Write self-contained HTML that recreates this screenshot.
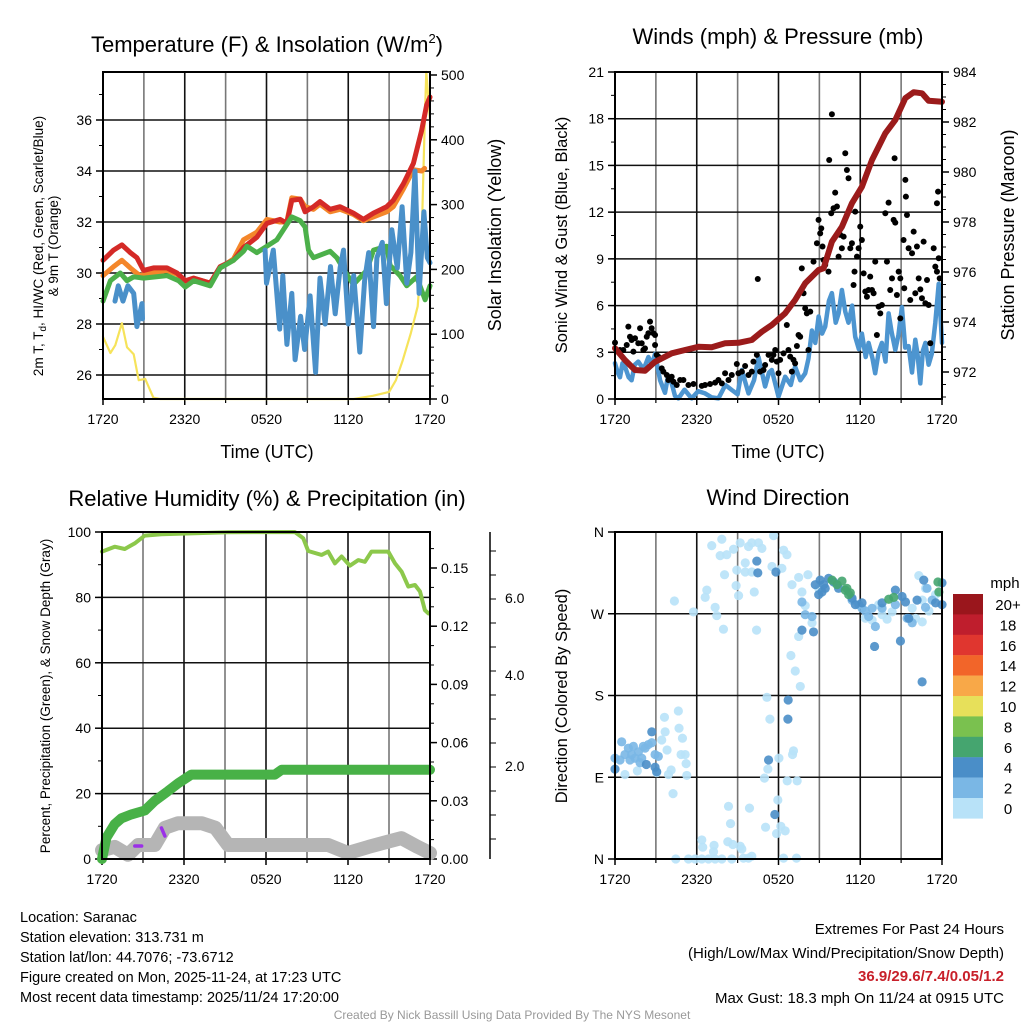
<!DOCTYPE html>
<html><head><meta charset="utf-8"><title>Saranac Mesonet</title>
<style>
html,body{margin:0;padding:0;background:#fff;}
svg{display:block;font-family:"Liberation Sans",sans-serif;}
.tk{font-size:14px;fill:#000;}
.tt{font-size:22px;fill:#000;}
.al{font-size:18px;fill:#000;}
</style></head>
<body>
<svg id="c" width="1024" height="1024" viewBox="0 0 1024 1024" xmlns="http://www.w3.org/2000/svg">
<rect width="1024" height="1024" fill="#fff"/>
<text class="tt" x="267" y="52" text-anchor="middle">Temperature (F) &amp; Insolation (W/m<tspan font-size="13" dy="-9">2</tspan><tspan dy="9">)</tspan></text>
<text class="tt" x="778" y="44" text-anchor="middle">Winds (mph) &amp; Pressure (mb)</text>
<text class="tt" x="267" y="506" text-anchor="middle">Relative Humidity (%) &amp; Precipitation (in)</text>
<text class="tt" x="778" y="505" text-anchor="middle">Wind Direction</text>
<text class="al" x="267" y="458" text-anchor="middle">Time (UTC)</text>
<text class="al" x="778" y="458" text-anchor="middle">Time (UTC)</text>
<text x="0" y="0" font-size="13.5" text-anchor="middle" transform="translate(43,246) rotate(-90)">2m T, T<tspan font-size="10" dy="3">d</tspan><tspan dy="-3">, HI/WC (Red, Green, Scarlet/Blue)</tspan></text>
<text x="0" y="0" font-size="13.5" text-anchor="middle" transform="translate(58,246) rotate(-90)">&amp; 9m T (Orange)</text>
<text class="al" x="0" y="0" text-anchor="middle" transform="translate(501,235) rotate(-90)">Solar Insolation (Yellow)</text>
<text x="0" y="0" font-size="16.5" text-anchor="middle" transform="translate(567,235) rotate(-90)">Sonic Wind &amp; Gust (Blue, Black)</text>
<text class="al" x="0" y="0" text-anchor="middle" transform="translate(1014,235) rotate(-90)">Station Pressure (Maroon)</text>
<text x="0" y="0" font-size="13.5" text-anchor="middle" transform="translate(50,696) rotate(-90)">Percent, Precipitation (Green), &amp; Snow Depth (Gray)</text>
<text x="0" y="0" font-size="16.5" text-anchor="middle" transform="translate(567,696) rotate(-90)">Direction (Colored By Speed)</text>
<text x="1005" y="588" font-size="15" text-anchor="middle">mph</text>
<g font-size="14.5">
<text x="20" y="922">Location: Saranac</text>
<text x="20" y="942">Station elevation: 313.731 m</text>
<text x="20" y="962">Station lat/lon: 44.7076; -73.6712</text>
<text x="20" y="982">Figure created on Mon, 2025-11-24, at 17:23 UTC</text>
<text x="20" y="1002">Most recent data timestamp: 2025/11/24 17:20:00</text>
</g>
<g font-size="15" text-anchor="end">
<text x="1004" y="934">Extremes For Past 24 Hours</text>
<text x="1004" y="958">(High/Low/Max Wind/Precipitation/Snow Depth)</text>
<text x="1004" y="981" fill="#c8202a" font-weight="bold">36.9/29.6/7.4/0.05/1.2</text>
<text x="1004" y="1003">Max Gust: 18.3 mph On 11/24 at 0915 UTC</text>
</g>
<text x="512" y="1019" font-size="12" fill="#999" text-anchor="middle">Created By Nick Bassill Using Data Provided By The NYS Mesonet</text>
</svg>
<script>
// ---------------- data ----------------
const xTickLabels = ["1720","2320","0520","1120","1720"];
const tempTicks = [26,28,30,32,34,36];
const solarTicks = [0,100,200,300,400,500];
const windTicks = [0,3,6,9,12,15,18,21];
const presTicks = [972,974,976,978,980,982,984];
const rhTicks = [0,20,40,60,80,100];
const precipTicks = ["0.00","0.03","0.06","0.09","0.12","0.15"];
const snowTickLabels = ["2.0","4.0","6.0"];
const dirTickLabels = ["N","E","S","W","N"];
const speedLabels = ["20+","18","16","14","12","10","8","6","4","2","0"];
const speedColors = ["#9a161c","#bf1e2d","#e0362f","#f26529","#f8a848","#e7e05a","#7ac14f","#45a56f","#4a8ec8","#7ab7e5","#b8e2f8"];

const redT = [0,0.78,1.39,2.0,2.49,2.98,3.71,4.69,5.43,6.04,6.65,7.87,8.6,9.58,10.31,11.29,12.03,13.0,13.49,13.86,14.47,14.83,15.45,15.93,16.67,17.4,18.38,19.11,19.85,20.82,21.31,22.05,22.78,23.39,23.76,24];
const redV = [30.5,30.9,31.1,30.8,30.6,30.1,30.2,30.2,30.0,29.7,29.8,29.6,30.25,30.5,31.0,31.4,31.95,32.1,31.95,32.85,32.9,32.4,32.6,32.8,32.5,32.6,32.35,32.1,32.35,32.6,32.85,33.5,34.3,35.6,36.6,36.9];
const orangeT = [0,0.78,1.39,2.0,2.7,3.5,4.69,5.43,6.04,6.65,7.87,8.6,9.58,10.31,11.29,12.03,13.0,13.49,13.86,14.47,14.83,15.45,15.93,16.67,17.4,18.38,19.11,19.85,20.82,21.31,22.05,22.78,23.39,23.6];
const orangeV = [29.9,30.25,30.5,30.2,29.9,30.0,30.1,29.95,29.65,29.8,29.6,30.2,30.55,31.3,31.6,32.1,32.0,32.0,32.95,32.9,32.6,32.5,32.7,32.4,32.5,32.3,32.05,32.2,32.4,32.6,33.3,34.05,34.0,34.1];
const greenT = [0,0.54,1.27,1.76,2.25,2.98,4.69,5.55,6.04,6.65,7.87,8.6,9.58,10.31,10.56,11.29,12.03,12.76,13.86,14.47,14.83,15.08,15.45,16.67,17.16,17.89,18.38,19.36,19.85,20.82,21.07,21.8,22.29,23.02,23.64,24];
const greenV = [28.9,29.7,30.0,29.7,29.85,29.8,29.9,29.7,29.45,29.7,29.5,30.2,30.5,30.85,31.05,30.8,31.05,31.3,32.2,32.05,31.8,30.9,30.6,30.85,30.6,29.95,29.55,30.1,30.9,31.05,30.3,29.9,29.5,29.85,28.95,29.5];
const blueT1 = [0.88,1.12,1.47,1.83,2.25,2.49,2.74,2.86,2.9];
const blueV1 = [28.9,29.5,28.9,29.5,29.2,27.9,28.5,28.8,28.2];
const blueT2 = [11.9,12.0,12.5,12.97,13.2,13.5,13.86,14.1,14.5,14.8,15.2,15.6,15.93,16.3,16.7,17.04,17.4,17.65,18.0,18.4,18.85,19.2,19.5,19.85,20.1,20.5,20.8,21.2,21.6,21.95,22.3,22.6,22.9,23.2,23.55,23.8,24];
const blueV2 = [30.9,29.6,30.9,27.8,29.9,27.2,29.2,26.6,28.3,27.0,29.1,26.1,29.8,28.0,30.25,28.4,30.2,30.9,28.0,29.9,26.9,29.7,30.8,27.9,30.6,31.2,28.8,31.7,30.2,32.6,29.6,30.8,34.0,29.2,32.4,30.6,30.4];
const solarT = [0,0.54,0.9,1.39,1.76,2.25,2.62,3.1,3.7,4.2,18.4,19.8,21.0,21.5,22.0,22.6,23.1,23.35,23.6,23.73,23.85,24];
const solarV = [96,71,83,117,80,69,29,31,2,0,0,5,11,29,60,102,143,215,420,505,470,430];

const gustT = [0,0.37,0.61,0.86,0.98,1.10,1.22,1.35,1.47,1.71,1.84,1.96,2.08,2.2,2.33,2.45,2.57,2.69,2.82,2.94,2.94,3.06,3.18,3.43,3.55,3.8,3.92,4.16,4.29,4.53,4.78,5.02,5.39,5.76,6.37,6.61,6.98,7.35,7.59,7.84,8.08,8.33,8.57,8.94,9.06,9.31,9.55,9.8,10.04,10.16,10.41,10.48,10.65,10.9,11.02,11.27,11.51,11.63,11.76,11.88,12.0,12.12,12.37,12.61,12.73,12.86,12.98,13.1,13.22,13.35,13.47,13.59,13.71,13.84,13.96,14.08,14.2,14.33,14.57,14.82,14.94,15.06,15.14,15.23,15.31,15.43,15.67,15.72,15.87,15.92,16.04,16.16,16.29,16.41,16.53,16.65,16.78,16.9,17.02,17.14,17.27,17.39,17.51,17.58,17.63,17.76,17.88,18.0,18.12,18.25,18.37,18.49,18.61,18.73,18.86,18.98,19.1,19.22,19.35,19.47,19.59,19.84,19.96,20.08,20.2,20.33,20.45,20.52,20.57,20.69,20.82,20.94,20.94,21.18,21.23,21.31,21.35,21.43,21.55,21.67,21.8,21.92,22.04,22.16,22.29,22.41,22.53,22.65,22.78,22.9,23.02,23.14,23.39,23.51,23.63,23.71,23.76,23.83,23.63];
const gustV = [3.62,3.15,3.15,3.47,4.65,4.0,3.79,3.04,3.9,3.58,4.54,3.58,3.15,3.25,4.0,4.22,4.97,4.54,4.22,4.11,3.47,2.83,2.72,1.97,1.76,1.54,1.22,1.43,1.11,0.9,1.22,1.22,0.9,0.96,0.84,0.9,0.96,1.05,1.22,1.0,1.65,1.22,1.54,2.25,1.65,1.76,2.12,1.54,1.76,2.4,2.83,7.71,1.76,1.86,2.18,2.83,2.51,2.83,3.15,2.4,1.65,2.51,2.93,4.75,3.15,2.72,1.76,2.51,2.29,3.4,4.11,4.0,8.39,6.79,5.82,5.5,3.15,5.61,8.82,10.0,11.5,10.64,10.96,9.79,8.93,8.61,8.18,15.35,11.93,18.29,12.25,13.25,12.36,9.14,10.54,9.68,10.43,15.78,14.71,14.18,9.68,10.0,7.32,8.18,12.03,9.14,9.68,11.07,10.21,8.07,6.9,6.57,7.0,7.86,7.0,6.79,8.82,4.11,5.93,5.5,6.04,11.93,8.82,12.61,7.0,7.75,11.5,15.46,11.33,6.68,8.18,7.75,5.18,10.21,7.11,14.07,13.0,11.82,9.68,6.36,9.36,10.75,6.79,9.79,7.75,7.04,6.47,10.11,6.15,7.64,6.04,3.58,9.68,8.5,8.18,13.32,9.04,7.75,12.57];
const windT = [0,0.2,0.37,0.55,0.73,1.0,1.22,1.45,1.71,2.1,2.45,2.7,2.94,3.31,3.67,3.9,4.16,4.4,4.65,5.1,5.63,6.1,6.61,7.1,7.59,8.1,8.57,9.0,9.31,9.8,10.2,10.53,11.02,11.3,11.51,12.0,12.49,12.9,13.22,13.6,13.96,14.2,14.45,14.7,14.94,15.2,15.43,15.7,15.92,16.2,16.41,16.65,16.9,17.14,17.4,17.63,17.9,18.12,18.4,18.61,18.9,19.1,19.35,19.59,19.85,20.08,20.3,20.57,20.8,21.06,21.3,21.55,21.8,22.04,22.2,22.41,22.6,22.78,23.02,23.25,23.51,23.76,24];
const windV = [2.3,1.7,1.4,2.3,2.1,1.4,1.2,2.2,2.4,1.9,2.7,2.2,2.9,1.2,0.4,1.5,1.0,0.2,0.04,0.6,0.04,0.5,0.36,0.1,0.04,0.9,0.58,0.3,1.86,0.36,1.2,2.7,0.8,1.7,1.86,0.15,1.43,0.9,2.08,1.2,1.65,2.6,4.4,3.6,5.3,4.2,4.65,6.3,6.8,4.9,5.5,7.0,5.6,4.9,6.0,4.0,3.2,4.2,2.7,3.6,2.6,1.65,3.0,3.6,2.4,5.5,4.3,3.15,4.1,5.9,3.3,3.4,1.7,3.8,2.9,1.0,3.1,3.6,2.2,2.9,4.9,7.4,3.6];
const presT = [0,0.73,1.47,2.2,2.94,4.16,5.14,6.12,7.1,8.08,9.06,10.04,10.78,11.51,12.49,13.22,13.96,14.94,15.31,15.92,16.65,17.39,18.12,18.86,19.84,20.57,21.31,21.92,22.53,23.02,24];
const presV = [972.95,972.48,972.08,972.05,972.41,972.75,972.88,973.01,972.99,973.15,973.17,973.28,973.61,973.88,974.35,974.88,975.55,976.08,976.15,977.21,977.81,978.75,979.41,980.48,981.55,982.08,982.95,983.19,983.15,982.85,982.81];

const rhT = [0,0.93,1.66,2.39,3.13,4.35,6.79,9.23,14.11,14.72,15.09,16.07,16.55,17.04,17.53,18.14,18.75,19.24,19.72,20.95,21.44,21.92,22.41,22.9,23.27,23.63,23.88];
const rhV = [94.0,95.5,94.8,96.5,98.9,99.3,99.6,99.9,100,98.1,94.2,93.0,94.0,90.4,92.5,89.7,91.4,90.9,94.0,94.0,90.4,87.9,83.3,83.8,81.8,76.1,75.1];
const precipT = [0,0.32,0.93,1.42,2.15,3.13,3.86,4.83,5.57,6.54,12.65,13.14,24];
const precipV = [0.0,0.011,0.018,0.021,0.023,0.025,0.030,0.035,0.039,0.0435,0.0435,0.046,0.046];
const snowT = [0,0.93,1.9,2.64,3.86,4.6,5.57,7.3,8.3,9.23,16.55,18.0,19.5,21.9,23.1,24];
const snowV = [0.19,0.26,0.09,0.3,0.3,0.67,0.77,0.77,0.67,0.3,0.3,0.13,0.26,0.45,0.26,0.13];

// wind direction, split by speed class
const dirT0 = [7.1,7.84,7.72,8.2,8.7,9.19,9.8,10.04,10.53,10.78,11.64,12.37,12.62,9.56,8.94,9.56,10.04,11.52,12.25,8.04,6.74,6.62,4.36,5.76,7.35,7.47,7.96,8.89,9.07,10.22,10.39,12.99,13.48,14.16,13.72,13.96,14.46,13.48,12.91,13.23,13.6,11.15,11.37,4.65,3.63,3.68,4.7,4.95,4.85,5.15,5.22,3.82,3.92,4.12,5.27,4.26,8.33,9.87,8.48,11.05,11.95,12.17,12.49,11.86,13.1,13.03,12.03,11.22,10.97,12.64,13.37,6.37,6.44,7.27,7.23,8.28,8.65,9.19,9.31,4.46,5.39,5.88,6.37,6.86,7.35,7.84,8.57,9.43,9.8,10.04,12.37,13.32,0.73,1.64,3.06,3.43,14.95,19.36,19.6,20.34,18.38,18.87,19.97,22.3,22.79,21.81,22.55,23.04,23.53,22.06,22.55];
const dirV0 = [345,352,334,335,341,348,344,348,348,342,356,340,335,326,318,316,316,322,320,313,296,288,284,272,277,268,253,301,290,294,252,302,310,313,294,279,260,245,224,207,190,178,154,163,156,140,144,133,115,115,105,120,93,98,92,72,58,56,39,35,65,36,31,28,119,115,111,99,89,86,86,21,13,15,8,19,16,14,11,0,0,0,0,0,0,0,0,1,1,3,1,1,93,97,95,131,298,280,269,272,265,263,264,312,298,276,285,273,291,265,261];
const dirT1 = [0,0.37,0.73,0.98,1.22,1.35,1.72,1.96,2.21,2.45,2.7,2.94,3.18,1.47,1.1,0.49,1.84,2.08,13.72,13.96,14.46,19.11,19.6,18.13,18.62,18.87,21.44,21.81,20.58,22.9,23.28,17.4,17.89,22.79,18.38];
const dirV1 = [111,109,115,122,115,124,118,111,122,126,128,115,113,111,109,129,106,124,283,269,267,256,276,276,267,276,265,260,280,298,285,285,280,277,273];
const dirT2 = [0,2.7,2.3,2.94,3.06,10.41,10.48,11.81,12.71,12.69,11.27,11.73,13.72,14.57,14.7,15.06,15.19,14.95,15.43,15.68,16.41,17.4,17.64,18.13,19.05,19.6,20.58,21.07,21.32,20.95,21.56,22.17,22.66,23.53,24,24,22.54,15.31,16.05];
const dirV2 = [99,140,104,101,96,328,315,316,175,154,109,49,252,250,302,307,294,291,298,309,298,287,280,282,234,282,296,289,283,240,265,285,307,282,280,304,195,302,305];
const dirT3 = [15.93,16.3,16.66,16.9,17.15,17.02,17.27,20.09,20.46,23.7,23.77];
const dirV3 = [307,302,306,296,291,298,293,286,288,305,294];

// ---------------- drawing ----------------
const NS = "http://www.w3.org/2000/svg";
const svg = document.getElementById("c");
function mk(tag, attrs, parent) {
  const e = document.createElementNS(NS, tag);
  for (const k in attrs) e.setAttribute(k, attrs[k]);
  (parent || svg).appendChild(e);
  return e;
}
function lin(d0, d1, p0, p1) { return v => p0 + (v - d0) / (d1 - d0) * (p1 - p0); }
function pathD(ts, vs, fx, fy) {
  let d = "";
  for (let i = 0; i < ts.length; i++) d += (i ? "L" : "M") + fx(ts[i]).toFixed(1) + "," + fy(vs[i]).toFixed(1);
  return d;
}
function panel(name, x0, x1, y0, y1) {
  const g = mk("g", {});
  
  
  const fx = lin(0, 24, x0, x1);
  for (let h = 3; h < 24; h += 3) {
    const l = mk("line", {x1: fx(h), x2: fx(h), y1: y0, y2: y1, stroke: h % 6 ? "#777" : "#111", "stroke-width": 1.6}, g);
    
    
  }
  for (let i = 0; i < xTickLabels.length; i++) {
    const x = fx(i * 6);
    const t = mk("line", {x1: x, x2: x, y1: y1, y2: y1 + 6, stroke: "#000", "stroke-width": 1.5}, g);
    
    
    const tx = mk("text", {x: x, y: y1 + 25, "text-anchor": "middle", class: "tk"}, g);
    tx.textContent = xTickLabels[i];
    
    
  }
  for (let h = 3; h < 24; h += 6) {
    const t = mk("line", {x1: fx(h), x2: fx(h), y1: y1, y2: y1 + 4, stroke: "#000", "stroke-width": 1.2}, g);
    
    
  }
  return {g, fx};
}
function frame(g, x0, x1, y0, y1) {
  const r = mk("rect", {x: x0, y: y0, width: x1 - x0, height: y1 - y0, fill: "none", stroke: "#000", "stroke-width": 2}, g);
  
  
}
function yAxis(g, ticks, labels, fy, x, side, y0, y1, grid, x0, x1, minorStep, dmin, dmax) {
  const dir = side === "left" ? -1 : 1;
  for (let i = 0; i < ticks.length; i++) {
    const y = fy(ticks[i]);
    if (y < y0 - 1 || y > y1 + 1) continue;
    if (grid) {
      const gl = mk("line", {x1: x0, x2: x1, y1: y, y2: y, stroke: "#111", "stroke-width": 1.5}, g);
      
      
    }
    const t = mk("line", {x1: x, x2: x + dir * 7, y1: y, y2: y, stroke: "#000", "stroke-width": 1.5}, g);
    
    
    const tx = mk("text", {x: x + dir * 11, y: y + 5, "text-anchor": side === "left" ? "end" : "start", class: "tk"}, g);
    tx.textContent = labels[i];
    
    
  }
  if (minorStep) {
    for (let v = dmin; v <= dmax + 1e-9; v += minorStep) {
      const y = fy(v);
      if (y < y0 || y > y1) continue;
      const t = mk("line", {x1: x, x2: x + dir * 4, y1: y, y2: y, stroke: "#000", "stroke-width": 1}, g);
      
      
    }
  }
}
function line(g, ts, vs, fx, fy, color, w, name) {
  const p = mk("path", {d: pathD(ts, vs, fx, fy), fill: "none", stroke: color, "stroke-width": w, "stroke-linejoin": "round", "stroke-linecap": "round"}, g);
  
  
  return p;
}

// Panel 1
{
  const X0 = 103, X1 = 430, Y0 = 72, Y1 = 399;
  const {g, fx} = panel("temperature-panel", X0, X1, Y0, Y1);
  const fy = lin(26, 36, 375, 120);
  const fs = lin(0, 500, 399, 75);
  yAxis(g, tempTicks, tempTicks, fy, X0, "left", Y0, Y1, true, X0, X1, 1, 25, 38);
  yAxis(g, solarTicks, solarTicks, fs, X1, "right", Y0, Y1, false, 0, 0, 20, 0, 500);
  line(g, solarT, solarV, fx, fs, "#f6e35a", 2.2, "solar-insolation-line");
  line(g, orangeT, orangeV, fx, fy, "#f4862a", 5, "9m-temperature-line");
  line(g, redT, redV, fx, fy, "#d42a27", 5, "2m-temperature-line");
  line(g, greenT, greenV, fx, fy, "#4cb04a", 5, "dewpoint-line");
  line(g, blueT1, blueV1, fx, fy, "#4a90c9", 5, "wind-chill-line-early");
  line(g, blueT2, blueV2, fx, fy, "#4a90c9", 5, "wind-chill-line");
  frame(g, X0, X1, Y0, Y1);
}
// Panel 2
{
  const X0 = 615, X1 = 942, Y0 = 72, Y1 = 399;
  const {g, fx} = panel("winds-panel", X0, X1, Y0, Y1);
  const fy = lin(0, 21, 399, 72);
  const fp = lin(972, 984, 372, 72);
  yAxis(g, windTicks, windTicks, fy, X0, "left", Y0, Y1, true, X0, X1, 1.5, 0, 21);
  yAxis(g, presTicks, presTicks, fp, X1, "right", Y0, Y1, false, 0, 0, 0.5, 971, 984);
  line(g, windT, windV, fx, fy, "#4d95d0", 4.5, "sonic-wind-line");
  for (let i = 0; i < gustT.length; i++) {
    const c = mk("circle", {cx: fx(gustT[i]), cy: fy(gustV[i]), r: 3, fill: "#000"}, g);
    
    
  }
  line(g, presT, presV, fx, fp, "#9b1b1b", 6, "station-pressure-line");
  frame(g, X0, X1, Y0, Y1);
}
// Panel 3
{
  const X0 = 102, X1 = 430, Y0 = 532, Y1 = 859;
  const {g, fx} = panel("humidity-panel", X0, X1, Y0, Y1);
  const fy = lin(0, 100, 859, 532);
  const fpr = lin(0, 0.15, 859, 568);
  const fsn = lin(0, 2, 859, 766);
  yAxis(g, rhTicks, rhTicks, fy, X0, "left", Y0, Y1, true, X0, X1, 10, 0, 100);
  yAxis(g, [0,0.03,0.06,0.09,0.12,0.15], precipTicks, fpr, X1, "right", Y0, Y1, false, 0, 0, 0.01, 0, 0.17);
  const ax = mk("line", {x1: 490, x2: 490, y1: 532, y2: 859, stroke: "#000", "stroke-width": 1.5}, g);
  
  
  const snowPos = [766, 675, 598];
  for (let i = 0; i < snowTickLabels.length; i++) {
    const tx = mk("text", {x: 505, y: snowPos[i] + 5, class: "tk"}, g);
    tx.textContent = snowTickLabels[i];
    
    
  }
  for (let y = 551; y < 859; y += 24) {
    const t = mk("line", {x1: 490, x2: 496, y1: y, y2: y, stroke: "#000", "stroke-width": 1}, g);
    
    
  }
  line(g, snowT, snowV, fx, fsn, "#b5b5b5", 14, "snow-depth-line");
  line(g, precipT, precipV, fx, fpr, "#48b147", 10, "precipitation-line");
  line(g, rhT, rhV, fx, fy, "#8cc84b", 4, "relative-humidity-line");
  const p1 = mk("line", {x1: fx(2.4), x2: fx(2.9), y1: 846, y2: 846, stroke: "#9b30e8", "stroke-width": 3.5, "stroke-linecap": "round"}, g);
  
  
  const p2 = mk("line", {x1: fx(4.35), x2: fx(4.6), y1: 828, y2: 836, stroke: "#9b30e8", "stroke-width": 3.5, "stroke-linecap": "round"}, g);
  
  
  frame(g, X0, X1, Y0, Y1);
}
// Panel 4
{
  const X0 = 615, X1 = 942, Y0 = 532, Y1 = 859;
  const {g, fx} = panel("wind-direction-panel", X0, X1, Y0, Y1);
  const fy = lin(0, 360, 859, 532);
  yAxis(g, [0,90,180,270,360], dirTickLabels, fy, X0, "left", Y0, Y1, true, X0, X1, 0, 0, 0);
  const groups = [[dirT0, dirV0, "#b8e2f8"], [dirT1, dirV1, "#7ab7e5"], [dirT2, dirV2, "#4a8ec8"], [dirT3, dirV3, "#45a56f"]];
  for (const [ts, vs, col] of groups) {
    for (let i = 0; i < ts.length; i++) {
      const c = mk("circle", {cx: fx(ts[i]), cy: fy(vs[i]), r: 4.6, fill: col, "fill-opacity": 0.9}, g);
      
      
    }
  }
  frame(g, X0, X1, Y0, Y1);
  const cb = mk("g", {});
  
  
  for (let i = 0; i < speedLabels.length; i++) {
    const y = 594 + i * 20.4;
    const r = mk("rect", {x: 953, y: y, width: 30, height: 20.6, fill: speedColors[i]}, cb);
    
    
    const t = mk("text", {x: 1008, y: y + 16, "text-anchor": "middle", "font-size": 15}, cb);
    t.textContent = speedLabels[i];
    
    
  }
}
</script>
</body></html>
